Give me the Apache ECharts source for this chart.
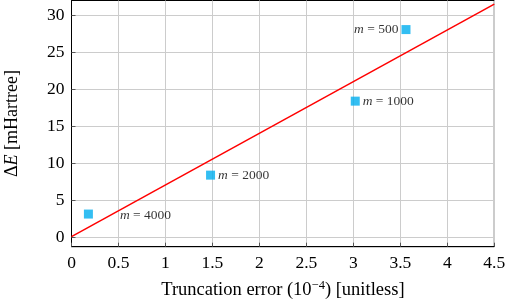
<!DOCTYPE html>
<html><head><meta charset="utf-8">
<script src="https://cdn.jsdelivr.net/npm/echarts@6/dist/echarts.min.js"></script>
<style>html,body{margin:0;padding:0;background:#fff}#c{width:505px;height:300px}</style>
</head><body><div id="c"></div>
<script>
const labels = ['4000', '2000', '1000', '500'];
const truncErr = [0.18, 1.48, 3.02, 3.56];
const deltaE = [3.14, 8.4, 18.4, 28.07];
const fitX = [0, 4.5];
const fitY = [0.1, 31.5];
const yTicks = [0, 5, 10, 15, 20, 25, 30];

const F = 'Liberation Serif';
const labelPos = [
  {position: 'right', offset: [22, 1]},
  {position: 'right', offset: [-2, 0]},
  {position: 'right', offset: [-2, 0]},
  {position: 'left', offset: [2, 0]}
];
const pts = truncErr.map((x, i) => ({
  value: [x, deltaE[i]],
  label: Object.assign({show: true, formatter: '{i|m} = ' + labels[i]}, labelPos[i])
}));

const chart = echarts.init(document.getElementById('c'));
chart.setOption({
  animation: false,
  grid: {left: 71.5, right: 10.7, top: 0.5, bottom: 53.3, show: true, borderColor: '#000', borderWidth: 1,
         containLabel: false, outerBoundsMode: 'none'},
  xAxis: {
    type: 'value', min: 0, max: 4.5, interval: 0.5,
    axisLine: {show: true, onZero: false, lineStyle: {color: '#000'}},
    axisTick: {show: true, inside: true, length: 4, lineStyle: {color: '#555'}},
    splitLine: {lineStyle: {color: '#cccccc'}},
    axisLabel: {color: '#000', fontFamily: F, fontSize: 17.5, margin: 8},
    name: 'Truncation error (10{s|−4}) [unitless]',
    nameLocation: 'middle', nameGap: 33,
    nameTextStyle: {color: '#000', fontFamily: F, fontSize: 18.5,
      rich: {s: {fontFamily: F, fontSize: 12.5, verticalAlign: 'top', color: '#000', padding: [0,0,7,0]}}}
  },
  yAxis: {
    type: 'value', min: -1.27, max: 32,
    axisLine: {show: true, onZero: false, lineStyle: {color: '#000'}},
    axisTick: {show: true, inside: true, length: 4, lineStyle: {color: '#555'}, customValues: yTicks},
    splitLine: {lineStyle: {color: '#cccccc'}},
    axisLabel: {color: '#000', fontFamily: F, fontSize: 17.5, margin: 7, customValues: yTicks},
    name: 'Δ{i|E} [mHartree]',
    nameLocation: 'middle', nameGap: 50,
    nameTextStyle: {color: '#000', fontFamily: F, fontSize: 18,
      rich: {i: {fontFamily: F, fontSize: 18, fontStyle: 'italic', color: '#000'}}}
  },
  series: [
    {type: 'line', data: fitX.map((x, i) => [x, fitY[i]]), showSymbol: false, symbol: 'none',
     lineStyle: {color: '#ff0000', width: 1.5}, z: 3},
    {type: 'scatter', data: pts, symbol: 'rect', symbolSize: 9,
     itemStyle: {color: '#00aeef'},
     label: {color: '#000', fontFamily: F, fontSize: 13.5,
       rich: {i: {fontFamily: F, fontSize: 13.5, fontStyle: 'italic', color: '#000'}}}, z: 4}
  ]
});
</script></body></html>
